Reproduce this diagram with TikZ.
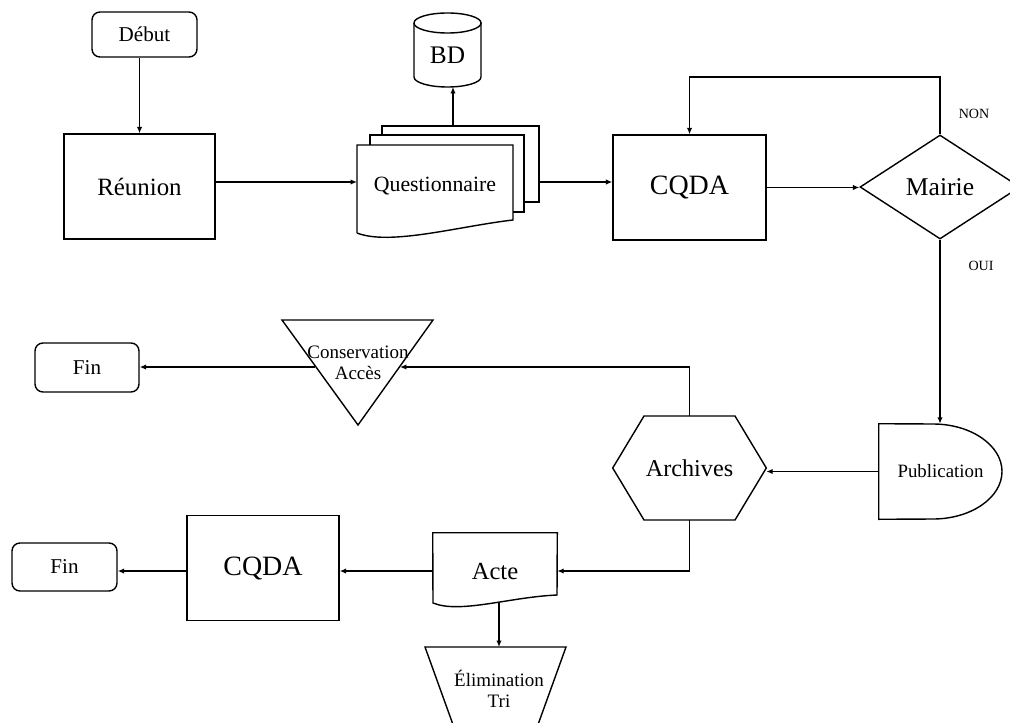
\documentclass[tikz,border=0pt]{standalone}
\usepackage{fontspec}
\setmainfont{Liberation Serif}
\usetikzlibrary{arrows.meta,shapes.geometric}
\begin{document}
\begin{tikzpicture}[x=0.025cm,y=-0.025cm,
  ln/.style={line width=1pt},
  arr/.style={ln,-{Latex[length=4.5pt,width=3.8pt]}},
  shp/.style={draw,line width=1pt,inner sep=0pt},
  rbox/.style={shp,rounded corners=0.2cm},
  lbl/.style={inner sep=0pt,align=center},
  fsmall/.style={font=\fontsize{10}{12}\selectfont},
  fmed/.style={font=\fontsize{13.5}{15}\selectfont},
  ffin/.style={font=\fontsize{15}{18}\selectfont},
  fbig/.style={font=\fontsize{17.7}{21}\selectfont},
  fhuge/.style={font=\fontsize{19.9}{24}\selectfont}]
\useasboundingbox (0,0) rectangle (1010,722);
\clip (0,0) rectangle (1010,722);

% --- top row
\node[rbox,ffin,minimum width=2.625cm,minimum height=1.125cm] (debut) at (144.5,34.5) {Début};
\node[shp,fbig,minimum width=3.775cm,minimum height=2.625cm] (reunion) at (139.5,186.5) {Réunion};
\draw[arr] (reunion.north |- debut.south) -- (reunion.north);

% Questionnaire (multi-document)
\draw[ln] (382,135) -- (382,126) -- (539,126) -- (539,202) -- (524,202);
\draw[ln] (370,145) -- (370,135) -- (524,135) -- (524,212) -- (513,212);
\draw[ln] (357,233) -- (357,145) -- (513,145) -- (513,220)
   .. controls (460,226) and (390,246) .. (357,233);
\node[lbl,font=\fontsize{15.5}{18}\selectfont,minimum width=3.9cm,minimum height=1.5cm] (quest) at (435,186) {Questionnaire};
\coordinate (qin) at (357,182);
\coordinate (qout) at (539,182);
\coordinate (qtop) at (453,126);
\draw[arr,line width=1.4pt] (reunion.east |- qin) -- (qin);

% BD cylinder
\draw[ln] (414,23) -- (414,77) .. controls (414,82.5) and (429,87) .. (447.5,87)
   .. controls (466,87) and (481,82.5) .. (481,77) -- (481,23);
\draw[ln] (447.5,23) ellipse [x radius=0.8375cm, y radius=0.25cm];
\node[lbl,font=\fontsize{18}{21}\selectfont] (bd) at (447.5,55) {BD};
\coordinate (bdbot) at (453,87);
\draw[arr] (qtop) -- (bdbot);

% CQDA and Mairie
\node[shp,fhuge,minimum width=3.825cm,minimum height=2.625cm] (cqda1) at (689.5,187.5) {CQDA};
\draw[arr] (qout) -- (qout -| cqda1.west);
\node[shp,diamond,font=\fontsize{18.2}{21}\selectfont,minimum width=4cm,minimum height=2.6cm] (mairie) at (940,187) {Mairie};
\draw[arr] (cqda1.east) -- (cqda1.east -| mairie.west);
\coordinate (loopy) at (0,77);
\draw[arr] (mairie.north) -- (mairie.north |- loopy) -| (cqda1.north);
\node[lbl,fsmall] (non) at (974,114) {NON};
\node[lbl,fsmall] (oui) at (981,266) {OUI};

% Publication
\node[lbl,font=\fontsize{13.4}{15}\selectfont,minimum width=3.075cm,minimum height=2.375cm] (pub) at (940.5,471.5) {Publication};
\draw[ln] (pub.north west) -- (933,424) .. controls (971,424) and (1002,445.3) .. (1002,471.5)
   .. controls (1002,497.7) and (971,519) .. (933,519) -- (pub.south west) -- cycle;
\draw[arr] (mairie.south) -- (mairie.south |- pub.north);

% Archives
\node[lbl,font=\fontsize{17.2}{21}\selectfont,minimum width=3.825cm,minimum height=2.6cm] (arch) at (689.5,468) {Archives};
\draw[ln] (arch.west) -- (644,416) -- (735,416) -- (arch.east) -- (735,520) -- (644,520) -- cycle;
\draw[arr] (pub.west) -- (pub.west -| arch.east);

% Conservation / Accès
\draw[ln] (282,320) -- (433,320) -- (358,425) -- cycle;
\node[lbl,fmed] (cons) at (358,363) {Conservation\\Accès};
\coordinate (consR) at (400,367);
\coordinate (consL) at (315,367);
\draw[arr] (arch.north) |- (consR);
\node[rbox,ffin,minimum width=2.6cm,minimum height=1.225cm] (fin1) at (87,367.5) {Fin};
\draw[arr] (consL) -- (consL -| fin1.east);

% Acte
\node[lbl,font=\fontsize{17.5}{21}\selectfont,minimum width=3.1cm,minimum height=1.9cm] (acte) at (495,571) {Acte};
\draw[ln] (acte.north west) -- (acte.north east) -- (557,595)
   .. controls (510,597) and (460,614) .. (433,603) -- cycle;
\draw[arr] (arch.south) |- (acte.east);

% CQDA 2 and Fin 2
\node[shp,fhuge,minimum width=3.8cm,minimum height=2.625cm] (cqda2) at (263,568) {CQDA};
\draw[arr] (acte.west) -- (acte.west -| cqda2.east);
\node[rbox,ffin,minimum width=2.625cm,minimum height=1.2cm] (fin2) at (64.5,567) {Fin};
\draw[arr] (cqda2.west |- acte.west) -- (acte.west -| fin2.east);

% Elimination / Tri
\draw[ln] (425,647) -- (566,647) -- (531,744) -- (460,744) -- cycle;
\node[lbl,fmed] (elim) at (499,689) {Élimination\\Tri};
\coordinate (abot) at (499,603);
\coordinate (etop) at (499,647);
\draw[arr] (abot) -- (etop);
\end{tikzpicture}
\end{document}
